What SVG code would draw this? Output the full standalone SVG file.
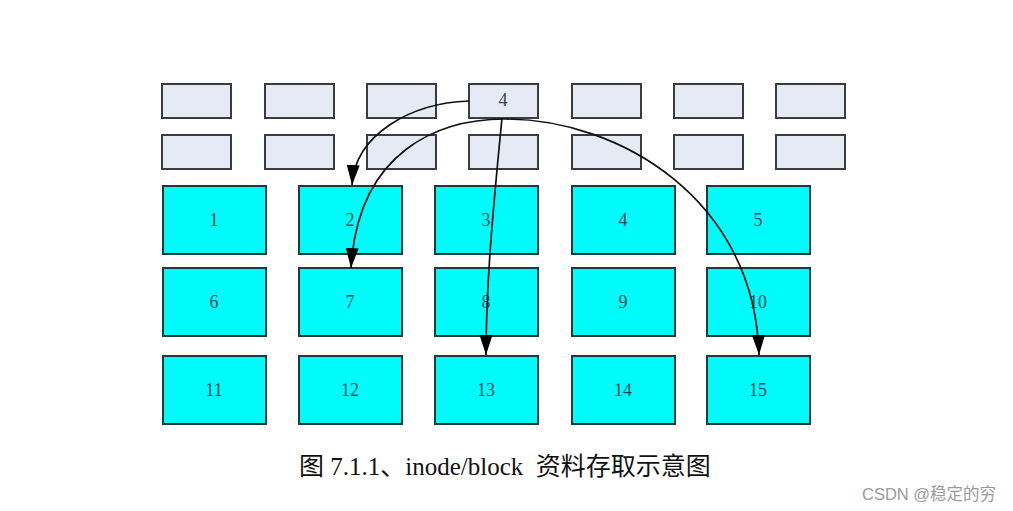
<svg xmlns="http://www.w3.org/2000/svg" width="1013" height="511" viewBox="0 0 1013 511">
<style>
.ib{fill:#e6eaf5;stroke:#3c3c3c;stroke-width:2}
.db{fill:#00fbfb;stroke:#1e3a3a;stroke-width:2}
.lb{font-family:"Liberation Serif",serif;font-size:18px;fill:#2c4a55;text-anchor:middle}
.edge{fill:none;stroke:#111;stroke-width:1.7}
.cap{font-family:"Liberation Serif","Noto Sans CJK SC",serif;font-size:25px;fill:#111}
.wm{font-family:"Liberation Sans","Noto Sans CJK SC",sans-serif;font-size:16.5px;fill:#9a9a9a}
</style>
<defs>
<marker id="ah" markerUnits="userSpaceOnUse" markerWidth="24" markerHeight="14" refX="20" refY="6.5" orient="auto">
<path d="M0,0 L20,6.5 L0,13 z" fill="#000"/>
</marker>
</defs>
<rect width="1013" height="511" fill="#fff"/>
<g id="inodes">
<g id="i1"><rect class="ib" x="162" y="84" width="69" height="34"/></g>
<g id="i2"><rect class="ib" x="265" y="84" width="69" height="34"/></g>
<g id="i3"><rect class="ib" x="367" y="84" width="69" height="34"/></g>
<g id="i4"><rect class="ib" x="469" y="84" width="69" height="34"/><text class="lb" x="503" y="106">4</text></g>
<g id="i5"><rect class="ib" x="572" y="84" width="69" height="34"/></g>
<g id="i6"><rect class="ib" x="674" y="84" width="69" height="34"/></g>
<g id="i7"><rect class="ib" x="776" y="84" width="69" height="34"/></g>
<g id="i8"><rect class="ib" x="162" y="135" width="69" height="34"/></g>
<g id="i9"><rect class="ib" x="265" y="135" width="69" height="34"/></g>
<g id="i10"><rect class="ib" x="367" y="135" width="69" height="34"/></g>
<g id="i11"><rect class="ib" x="469" y="135" width="69" height="34"/></g>
<g id="i12"><rect class="ib" x="572" y="135" width="69" height="34"/></g>
<g id="i13"><rect class="ib" x="674" y="135" width="69" height="34"/></g>
<g id="i14"><rect class="ib" x="776" y="135" width="69" height="34"/></g>
</g>
<g id="blocks">
<g id="b1"><rect class="db" x="163" y="186" width="103" height="68"/><text class="lb" x="214" y="226">1</text></g>
<g id="b2"><rect class="db" x="299" y="186" width="103" height="68"/><text class="lb" x="350" y="226">2</text></g>
<g id="b3"><rect class="db" x="435" y="186" width="103" height="68"/><text class="lb" x="486" y="226">3</text></g>
<g id="b4"><rect class="db" x="572" y="186" width="103" height="68"/><text class="lb" x="623" y="226">4</text></g>
<g id="b5"><rect class="db" x="707" y="186" width="103" height="68"/><text class="lb" x="758" y="226">5</text></g>
<g id="b6"><rect class="db" x="163" y="268" width="103" height="68"/><text class="lb" x="214" y="308">6</text></g>
<g id="b7"><rect class="db" x="299" y="268" width="103" height="68"/><text class="lb" x="350" y="308">7</text></g>
<g id="b8"><rect class="db" x="435" y="268" width="103" height="68"/><text class="lb" x="486" y="308">8</text></g>
<g id="b9"><rect class="db" x="572" y="268" width="103" height="68"/><text class="lb" x="623" y="308">9</text></g>
<g id="b10"><rect class="db" x="707" y="268" width="103" height="68"/><text class="lb" x="758" y="308">10</text></g>
<g id="b11"><rect class="db" x="163" y="356" width="103" height="68"/><text class="lb" x="214" y="396">11</text></g>
<g id="b12"><rect class="db" x="299" y="356" width="103" height="68"/><text class="lb" x="350" y="396">12</text></g>
<g id="b13"><rect class="db" x="435" y="356" width="103" height="68"/><text class="lb" x="486" y="396">13</text></g>
<g id="b14"><rect class="db" x="572" y="356" width="103" height="68"/><text class="lb" x="623" y="396">14</text></g>
<g id="b15"><rect class="db" x="707" y="356" width="103" height="68"/><text class="lb" x="758" y="396">15</text></g>
</g>
<g id="connectors">
<path class="edge" d="M469,101 C410,103 355,135 352,185" marker-end="url(#ah)"/>
<path class="edge" d="M505,119 C440,119 358,150 351,268" marker-end="url(#ah)"/>
<path class="edge" d="M502,118 C494,200 486,280 486,355" marker-end="url(#ah)"/>
<path class="edge" d="M505,119 C620,119 755,200 759,355" marker-end="url(#ah)"/>
</g>
<text class="cap" x="299" y="475" xml:space="preserve">图 7.1.1、inode/block  资料存取示意图</text>
<text class="wm" x="862" y="500">CSDN @稳定的穷</text>
</svg>
